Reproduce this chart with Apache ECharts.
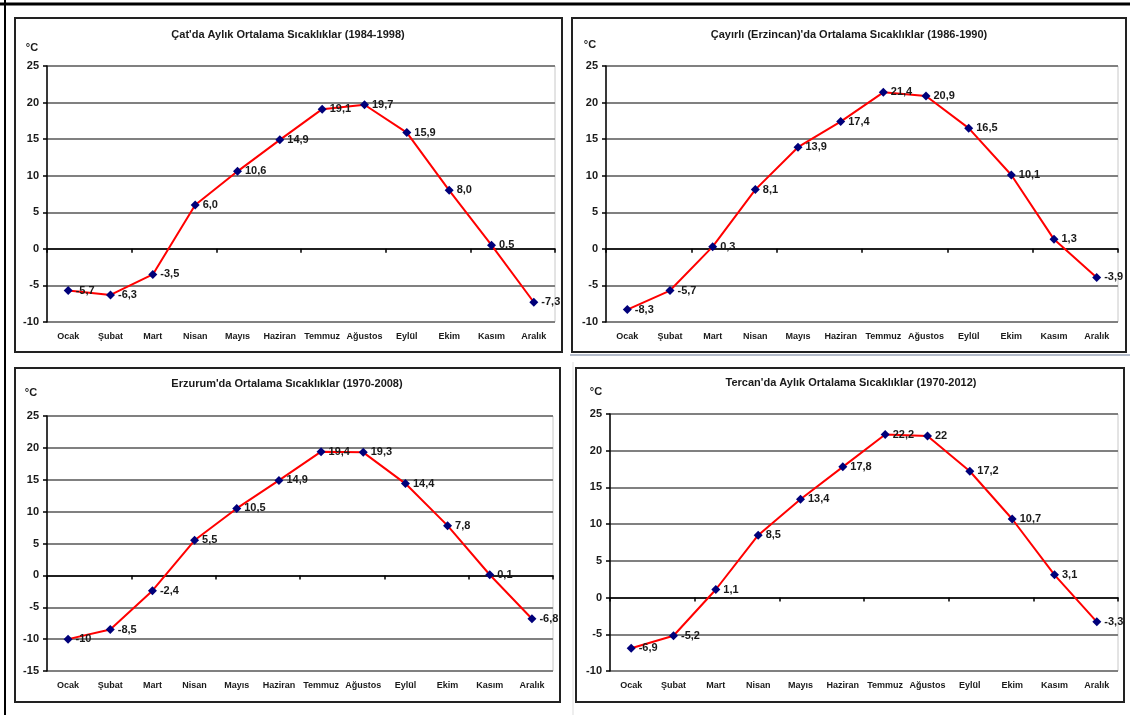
<!DOCTYPE html>
<html>
<head>
<meta charset="utf-8">
<script src="https://cdn.jsdelivr.net/npm/echarts@6.0.0/dist/echarts.min.js"></script>
<style>
html,body{margin:0;padding:0;background:#fff;}
#c{width:1130px;height:715px;}
</style>
</head>
<body>
<div id="c"></div>
<script>
// ---- data ----
const months = ['Ocak','Şubat','Mart','Nisan','Mayıs','Haziran','Temmuz','Ağustos','Eylül','Ekim','Kasım','Aralık'];
const catTemps = [-5.7,-6.3,-3.5,6.0,10.6,14.9,19.1,19.7,15.9,8.0,0.5,-7.3];
const cayirliTemps = [-8.3,-5.7,0.3,8.1,13.9,17.4,21.4,20.9,16.5,10.1,1.3,-3.9];
const erzurumTemps = [-10,-8.5,-2.4,5.5,10.5,14.9,19.4,19.3,14.4,7.8,0.1,-6.8];
const tercanTemps = [-6.9,-5.2,1.1,8.5,13.4,17.8,22.2,22,17.2,10.7,3.1,-3.3];
const titles = [
  "Çat'da Aylık Ortalama Sıcaklıklar (1984-1998)",
  "Çayırlı (Erzincan)'da Ortalama Sıcaklıklar (1986-1990)",
  "Erzurum'da Ortalama Sıcaklıklar (1970-2008)",
  "Tercan'da Aylık Ortalama Sıcaklıklar (1970-2012)"
];
const yMins = [-10, -10, -15, -10];
const yMax = 25;
const yStep = 5;
const unitLabel = '°C';

// ---- layout ----
const FONT = 'Liberation Sans, Arial, sans-serif';
const panels = [
  {temps: catTemps, fixed: true,  grid: {left: 47, top: 66, width: 508, height: 256}, box: [15, 18, 547, 334], tx: 288, ty: 29, ux: 32, uy: 48},
  {temps: cayirliTemps, fixed: false, grid: {left: 606, top: 66, width: 512, height: 256}, box: [572, 18, 554, 334], tx: 849, ty: 29, ux: 590, uy: 45},
  {temps: erzurumTemps, fixed: false, grid: {left: 47, top: 416, width: 506, height: 255}, box: [15, 368, 545, 334], tx: 287, ty: 378, ux: 31, uy: 393},
  {temps: tercanTemps, fixed: false, grid: {left: 610, top: 414, width: 508, height: 257}, box: [576, 368, 548, 334], tx: 851, ty: 377, ux: 596, uy: 392}
];

function fmt(v, fixed) {
  return (fixed ? v.toFixed(1) : String(v)).replace('.', ',');
}

const option = {
  backgroundColor: '#ffffff',
  animation: false,
  title: [],
  grid: [],
  xAxis: [],
  yAxis: [],
  series: [],
  graphic: []
};

// frame lines
option.graphic.push(
  {type: 'line', shape: {x1: 0, y1: 4, x2: 1130, y2: 4}, style: {stroke: '#000', lineWidth: 3}, z: 1},
  {type: 'line', shape: {x1: 5, y1: 0, x2: 5, y2: 715}, style: {stroke: '#000', lineWidth: 2}, z: 1},
  {type: 'line', shape: {x1: 570, y1: 355, x2: 1130, y2: 355}, style: {stroke: '#b4bccb', lineWidth: 2}, z: 1},
  {type: 'line', shape: {x1: 573, y1: 362, x2: 573, y2: 715}, style: {stroke: '#dddddd', lineWidth: 1}, z: 1}
);

panels.forEach((p, i) => {
  option.title.push({
    text: titles[i],
    left: p.tx, top: p.ty, textAlign: 'center', padding: 0,
    textStyle: {fontFamily: FONT, fontSize: 11, fontWeight: 'bold', color: '#1a1a1a'}
  });
  option.graphic.push({
    type: 'rect',
    shape: {x: p.box[0], y: p.box[1], width: p.box[2], height: p.box[3]},
    style: {fill: 'none', stroke: '#222', lineWidth: 2}, z: 1
  });
  option.graphic.push({
    type: 'text', x: p.ux, y: p.uy, z: 2,
    style: {text: unitLabel, fill: '#1a1a1a', font: 'bold 11px ' + FONT, align: 'center', verticalAlign: 'middle'}
  });
  option.grid.push(Object.assign({show: true, borderColor: '#c8c8c8', borderWidth: 1, backgroundColor: 'transparent'}, p.grid));
  // label axis at bottom
  option.xAxis.push({
    gridIndex: i, type: 'category', data: months, position: 'bottom',
    axisLine: {show: false, onZero: false}, axisTick: {show: false},
    axisLabel: {interval: 0, margin: 10, fontFamily: FONT, fontSize: 9, fontWeight: 'bold', color: '#1a1a1a'},
    splitLine: {show: false}
  });
  // zero line axis with ticks
  option.xAxis.push({
    gridIndex: i, type: 'category', data: months, position: 'bottom',
    axisLine: {show: true, onZero: true, lineStyle: {color: '#000', width: 1.5}},
    axisTick: {show: true, length: 4, lineStyle: {color: '#000', width: 1.5}},
    axisLabel: {show: false}, splitLine: {show: false}
  });
  option.yAxis.push({
    gridIndex: i, type: 'value', min: yMins[i], max: yMax, interval: yStep,
    axisLine: {show: true, lineStyle: {color: '#000', width: 1.5}},
    axisTick: {show: true, length: 4, lineStyle: {color: '#000', width: 1.5}},
    axisLabel: {margin: 8, fontFamily: FONT, fontSize: 11, fontWeight: 'bold', color: '#1a1a1a'},
    splitLine: {show: true, lineStyle: {color: '#808080', width: 2}}
  });
  option.series.push({
    type: 'line', xAxisIndex: 2 * i, yAxisIndex: i,
    data: p.temps,
    symbol: 'diamond', symbolSize: 9, showAllSymbol: true,
    itemStyle: {color: '#00007a'},
    lineStyle: {color: '#ff0000', width: 2},
    label: {
      show: true, position: 'right', distance: 3,
      fontFamily: FONT, fontSize: 11, fontWeight: 'bold', color: '#1a1a1a',
      formatter: (d) => fmt(d.value, p.fixed)
    },
    z: 5
  });
});

const chart = echarts.init(document.getElementById('c'), null, {renderer: 'canvas'});
chart.setOption(option);
</script>
</body>
</html>
